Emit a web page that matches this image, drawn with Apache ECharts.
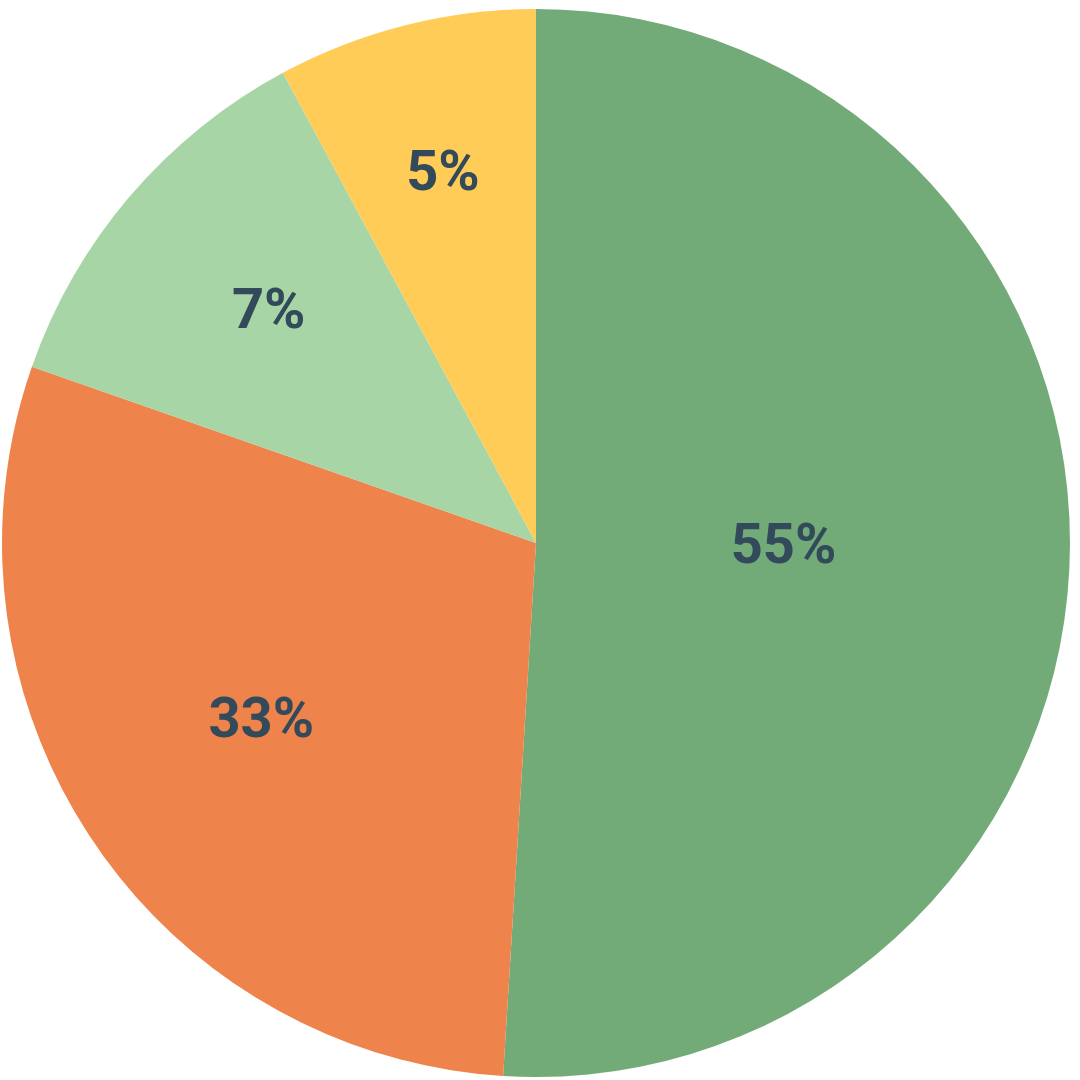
<!DOCTYPE html>
<html>
<head>
<meta charset="utf-8">
<script src="https://cdn.jsdelivr.net/npm/echarts@6/dist/echarts.min.js"></script>
<style>
  html, body { margin: 0; padding: 0; background: #ffffff; }
  #chart { width: 1080px; height: 1080px; }
</style>
</head>
<body>
<div id="chart"></div>
<script>
// Slice shares as drawn (degrees of arc, as % of circle)
const sliceShares = [50.98, 29.37, 11.79, 7.86];
// Printed data labels
const labelTexts = ['55%', '33%', '7%', '5%'];
const sliceColors = ['#72AB77', '#EE834B', '#A8D5A5', '#FFCC58'];
// Radial distance of each label from the centre, as a fraction of radius (style)
const labelRadiusFrac = [0.46, 0.61, 0.65, 0.70];

const chart = echarts.init(document.getElementById('chart'), null, { renderer: 'canvas' });

const R = 534;
const total = sliceShares.reduce((a, b) => a + b, 0);
const midAngles = [];
let acc = 0;
sliceShares.forEach(v => {
  const a = v / total * 360;
  midAngles.push((acc + a / 2) * Math.PI / 180);
  acc += a;
});

chart.setOption({
  animation: false,
  backgroundColor: '#ffffff',
  series: [{
    type: 'pie',
    center: [536, 543],
    radius: [0, R],
    startAngle: 90,
    clockwise: true,
    silent: true,
    avoidLabelOverlap: false,
    data: sliceShares.map((v, i) => ({
      value: v,
      name: labelTexts[i],
      itemStyle: { color: sliceColors[i] }
    })),
    label: {
      show: true,
      position: 'inside',
      formatter: p => labelTexts[p.dataIndex],
      fontFamily: 'Roboto',
      fontWeight: 'bold',
      fontSize: 56,
      color: '#324A5A'
    },
    labelLine: { show: false },
    labelLayout: function (p) {
      const i = p.dataIndex;
      const delta = (labelRadiusFrac[i] - 0.5) * R;
      return {
        dx: delta * Math.sin(midAngles[i]) - 1,
        dy: -delta * Math.cos(midAngles[i]) - 2
      };
    },
    emphasis: { disabled: true }
  }]
});
</script>
</body>
</html>
